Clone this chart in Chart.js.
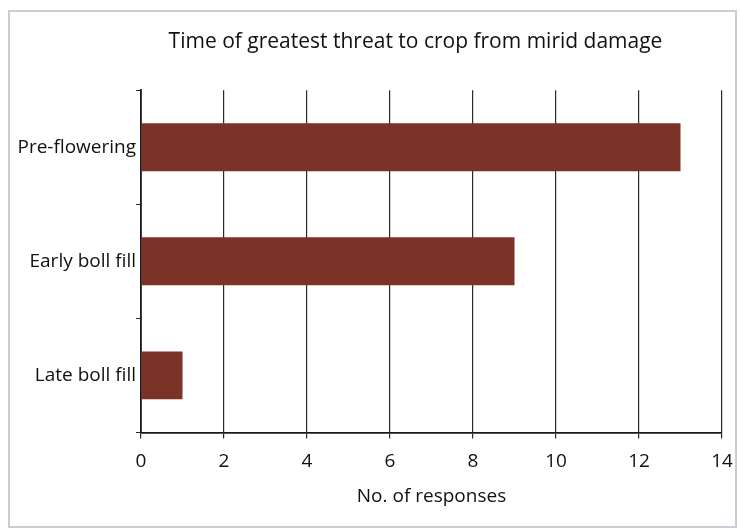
<!DOCTYPE html>
<html>
<head>
<meta charset="utf-8">
<script src="https://cdn.jsdelivr.net/npm/chart.js@4/dist/chart.umd.min.js"></script>
<style>
  html, body { margin: 0; padding: 0; background: #fff; }
  #wrap { position: relative; width: 740px; height: 531px; }
  #frame { position: absolute; left: 8px; top: 10px; width: 729px; height: 518px; border: 2px solid #c9ced6; box-sizing: border-box; }
  canvas { position: absolute; left: 0; top: 0; }
</style>
</head>
<body>
<div id="wrap">
  <div id="frame"></div>
  <canvas id="threatChart" width="740" height="531"></canvas>
</div>
<script>
const categories = ['Pre-flowering', 'Early boll fill', 'Late boll fill'];
const responses = [13, 9, 1];
const xTicks = [0, 2, 4, 6, 8, 10, 12, 14];

const fontFamily = '"Open Sans", "Noto Sans", sans-serif';
const ink = '#111';

// title sits a little left of the plot centre in the original
const shiftTitle = {
    id: 'shiftTitle',
    afterLayout(chart) {
        if (chart.titleBlock) chart.titleBlock.left -= 32;
    }
};

document.addEventListener('DOMContentLoaded', () => {
    const ctx = document.getElementById('threatChart').getContext('2d');
    new Chart(ctx, {
        type: 'bar',
        data: {
            labels: categories,
            datasets: [{
                data: responses,
                backgroundColor: '#7b3327',
                borderWidth: 0,
                barPercentage: 0.42,
                categoryPercentage: 1
            }]
        },
        options: {
            indexAxis: 'y',
            responsive: false,
            animation: false,
            layout: { padding: { top: 29, right: 18, bottom: 23, left: 8 } },
            plugins: {
                legend: { display: false },
                tooltip: { enabled: false },
                title: {
                    display: true,
                    fullSize: false,
                    text: 'Time of greatest threat to crop from mirid damage',
                    color: ink,
                    font: { family: fontFamily, size: 21, weight: 'normal' },
                    padding: { top: 0, bottom: 36 }
                }
            },
            scales: {
                x: {
                    min: 0,
                    max: 14,
                    afterBuildTicks: (scale) => {
                        scale.ticks = xTicks.map(v => ({ value: v }));
                    },
                    afterFit: (scale) => { scale.paddingRight = 0; },
                    grid: {
                        color: '#2a2a2a',
                        lineWidth: 1.2,
                        tickLength: 6,
                        tickColor: '#2a2a2a'
                    },
                    border: { color: '#1a1a1a', width: 1.8 },
                    ticks: {
                        color: ink,
                        padding: 12,
                        font: { family: fontFamily, size: 19 }
                    },
                    title: {
                        display: true,
                        text: 'No. of responses',
                        color: ink,
                        font: { family: fontFamily, size: 19 },
                        padding: { top: 0, bottom: 0 }
                    }
                },
                y: {
                    afterFit: (scale) => { scale.width = 133; },
                    grid: {
                        drawOnChartArea: false,
                        tickLength: 5,
                        tickColor: '#2a2a2a'
                    },
                    border: { color: '#1a1a1a', width: 1.8 },
                    ticks: {
                        color: ink,
                        padding: 0,
                        font: { family: fontFamily, size: 19 }
                    }
                }
            }
        },
        plugins: [shiftTitle]
    });
});
</script>
</body>
</html>
